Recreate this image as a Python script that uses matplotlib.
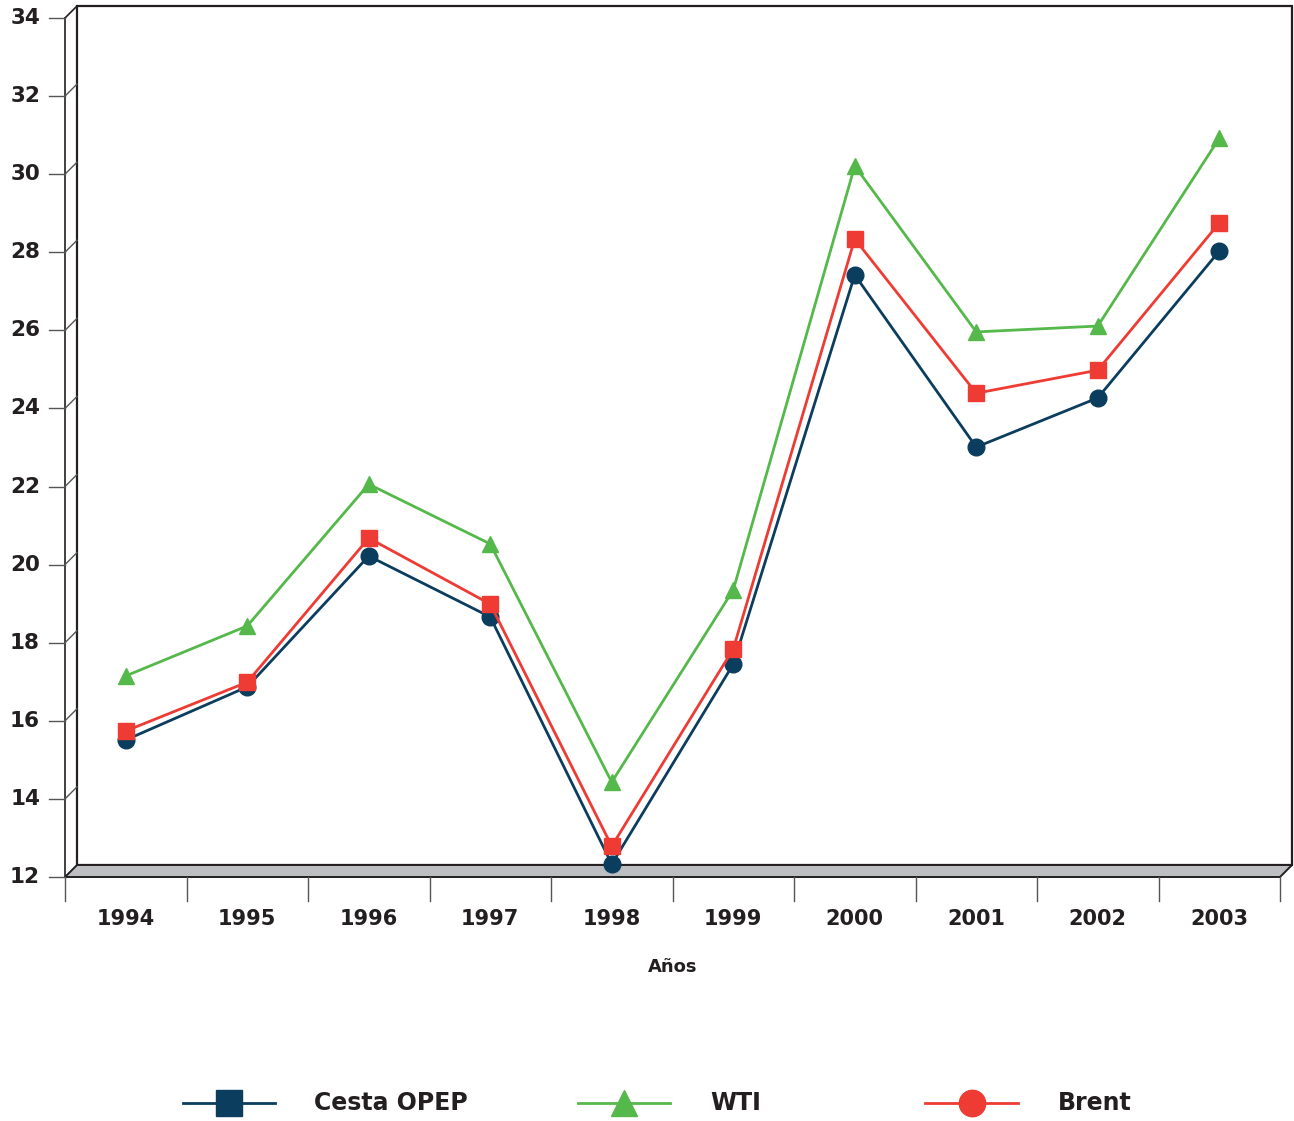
import matplotlib
matplotlib.use("Agg")
import matplotlib.pyplot as plt
from matplotlib.patches import Polygon
from matplotlib.lines import Line2D

years = ["1994", "1995", "1996", "1997", "1998", "1999", "2000", "2001", "2002", "2003"]
cesta_opep = [15.51, 16.87, 20.22, 18.66, 12.33, 17.45, 27.42, 23.01, 24.27, 28.03]
wti = [17.15, 18.43, 22.06, 20.53, 14.43, 19.35, 30.21, 25.96, 26.11, 30.92]
brent = [15.74, 16.99, 20.68, 18.99, 12.79, 17.84, 28.34, 24.39, 24.98, 28.75]
y_ticks = [12, 14, 16, 18, 20, 22, 24, 26, 28, 30, 32, 34]
x_label = "Años"
legend_labels = ["Cesta OPEP", "WTI", "Brent"]

C_OPEP = "#0b3d5e"
C_WTI = "#55b84a"
C_BRENT = "#ee3b33"
EDGE = "#231f20"

W, H = 1294, 1121
fig = plt.figure(figsize=(W / 100, H / 100), dpi=100)
plt.rcParams['font.family'] = ['DejaVu Sans']

L, R, B, T = 65, 1280, 877, 18
ax = fig.add_axes([L / W, 1 - B / H, (R - L) / W, (B - T) / H])
ax.set_xlim(-0.5, 9.5)
ax.set_ylim(12, 34)
ax.axis("off")

pxx = 10 / (R - L)
pxy = 22 / (B - T)
dx = 12 * pxx
dy = 12 * pxy
x0, x1 = -0.5, 9.5
y0, y1 = 12, 34

# back wall
ax.add_patch(Polygon([(x0 + dx, y0 + dy), (x1 + dx, y0 + dy), (x1 + dx, y1 + dy), (x0 + dx, y1 + dy)],
                     closed=True, facecolor="white", edgecolor=EDGE, lw=1.6, clip_on=False, zorder=1))
# floor
ax.add_patch(Polygon([(x0, y0), (x1, y0), (x1 + dx, y0 + dy), (x0 + dx, y0 + dy)],
                     closed=True, facecolor="#bdbec1", edgecolor=EDGE, lw=1.4, clip_on=False, zorder=2))
# left side wall
ax.plot([x0, x0], [y0, y1], color=EDGE, lw=1.2, clip_on=False, zorder=2)
ax.plot([x0, x0 + dx], [y1, y1 + dy], color=EDGE, lw=1.2, clip_on=False, zorder=2)
for yv in y_ticks:
    if yv not in (12, 34):
        ax.plot([x0, x0 + dx], [yv, yv + dy], color="#555555", lw=1.0, clip_on=False, zorder=2)
    ax.plot([x0 - 16 * pxx, x0], [yv, yv], color="#555555", lw=1.0, clip_on=False, zorder=2)
    ax.text(x0 - 25 * pxx, yv, str(yv), ha="right", va="center", fontsize=15.5,
            fontweight="bold", color=EDGE)

# x ticks (category boundaries)
for i in range(len(years) + 1):
    xb = x0 + i
    ax.plot([xb, xb], [y0, y0 - 24 * pxy], color="#555555", lw=1.0, clip_on=False, zorder=2)
for i, yr in enumerate(years):
    ax.text(i, y0 - 42 * pxy, yr, ha="center", va="center", fontsize=15,
            fontweight="bold", color=EDGE)
ax.text(4.5, y0 - 90 * pxy, x_label, ha="center", va="center", fontsize=13,
        fontweight="bold", color=EDGE)

xs = list(range(len(years)))
ax.plot(xs, cesta_opep, color=C_OPEP, lw=2, marker="o", ms=12, clip_on=False, zorder=5)
ax.plot(xs, wti, color=C_WTI, lw=2, marker="^", ms=12, clip_on=False, zorder=4)
ax.plot(xs, brent, color=C_BRENT, lw=2, marker="s", ms=12, clip_on=False, zorder=6)

# legend (drawn manually)
ly = 1 - 1103 / H
entries = [
    (183, 275, "s", C_OPEP, 314, legend_labels[0]),
    (578, 670, "^", C_WTI, 710, legend_labels[1]),
    (925, 1018, "o", C_BRENT, 1058, legend_labels[2]),
]
for xa, xb, mk, col, tx, lab in entries:
    fig.add_artist(Line2D([xa / W, xb / W], [ly, ly], color=col, lw=2, transform=fig.transFigure))
    fig.add_artist(Line2D([(xa + xb) / 2 / W], [ly], color=col, marker=mk, ms=19, lw=0,
                          transform=fig.transFigure))
    fig.text(tx / W, ly, lab, ha="left", va="center", fontsize=17, fontweight="bold", color=EDGE)

fig.savefig("out.png", dpi=100)
